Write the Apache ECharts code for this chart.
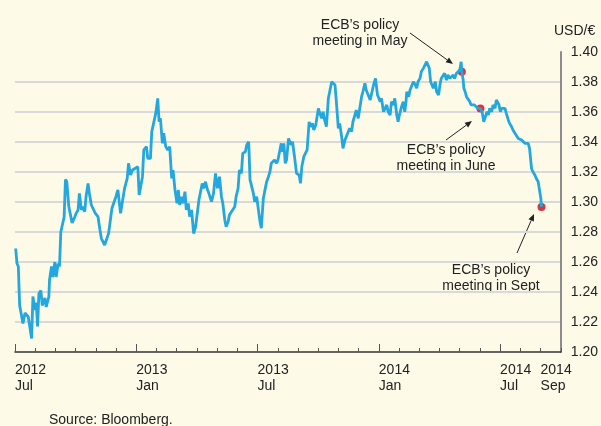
<!DOCTYPE html>
<html>
<head>
<meta charset="utf-8">
<script src="https://cdn.jsdelivr.net/npm/echarts@6/dist/echarts.min.js"></script>
<style>
  html, body { margin: 0; padding: 0; background: #fdfae8; }
  #chart { width: 601px; height: 426px; }
</style>
</head>
<body>
<div id="chart"></div>
<script>
// USD per euro (one line per month)
const dates = [
  '2012-07-02','2012-07-04','2012-07-06','2012-07-08','2012-07-11','2012-07-13','2012-07-16','2012-07-19','2012-07-21','2012-07-26','2012-07-28','2012-07-31',
  '2012-08-02','2012-08-04','2012-08-06','2012-08-09','2012-08-11','2012-08-15','2012-08-17','2012-08-21','2012-08-22','2012-08-25','2012-08-27','2012-08-30',
  '2012-09-01','2012-09-04','2012-09-06','2012-09-08','2012-09-10','2012-09-13','2012-09-15','2012-09-17','2012-09-20','2012-09-23','2012-09-25','2012-09-29',
  '2012-10-01','2012-10-04','2012-10-06','2012-10-09','2012-10-11','2012-10-14','2012-10-16','2012-10-19','2012-10-21','2012-10-24','2012-10-26','2012-10-30',
  '2012-11-03','2012-11-06','2012-11-08','2012-11-13','2012-11-16','2012-11-19','2012-11-21','2012-11-24','2012-11-27','2012-11-30',
  '2012-12-03','2012-12-07','2012-12-10','2012-12-13','2012-12-17','2012-12-19','2012-12-22','2012-12-25','2012-12-28',
  '2013-01-02','2013-01-04','2013-01-07','2013-01-09','2013-01-11','2013-01-15','2013-01-17','2013-01-21','2013-01-23','2013-01-26','2013-01-29',
  '2013-02-01','2013-02-03','2013-02-05','2013-02-08','2013-02-10','2013-02-13','2013-02-16','2013-02-19','2013-02-22','2013-02-24','2013-02-27',
  '2013-03-02','2013-03-04','2013-03-06','2013-03-09','2013-03-11','2013-03-14','2013-03-16','2013-03-19','2013-03-21','2013-03-24','2013-03-27','2013-03-30',
  '2013-04-02','2013-04-04','2013-04-06','2013-04-09','2013-04-11','2013-04-14','2013-04-17','2013-04-19','2013-04-23','2013-04-26','2013-04-29',
  '2013-05-02','2013-05-05','2013-05-08','2013-05-10','2013-05-13','2013-05-15','2013-05-18','2013-05-20','2013-05-23','2013-05-25','2013-05-28','2013-05-30',
  '2013-06-02','2013-06-04','2013-06-07','2013-06-09','2013-06-13','2013-06-15','2013-06-18','2013-06-20','2013-06-22','2013-06-25','2013-06-27','2013-06-30',
  '2013-07-02','2013-07-05','2013-07-07','2013-07-10','2013-07-12','2013-07-15','2013-07-17','2013-07-20','2013-07-22','2013-07-25','2013-07-27','2013-07-30',
  '2013-08-01','2013-08-04','2013-08-06','2013-08-08','2013-08-10','2013-08-12','2013-08-14','2013-08-17','2013-08-21','2013-08-23','2013-08-26','2013-08-29',
  '2013-09-02','2013-09-04','2013-09-06','2013-09-09','2013-09-12','2013-09-14','2013-09-17','2013-09-19','2013-09-22','2013-09-24','2013-09-27',
  '2013-10-01','2013-10-03','2013-10-06','2013-10-08','2013-10-11','2013-10-13','2013-10-16','2013-10-18','2013-10-21','2013-10-23','2013-10-26','2013-10-28','2013-10-31',
  '2013-11-02','2013-11-05','2013-11-07','2013-11-10','2013-11-12','2013-11-15','2013-11-17','2013-11-20','2013-11-22','2013-11-25','2013-11-27','2013-11-30',
  '2013-12-02','2013-12-05','2013-12-07','2013-12-10','2013-12-12','2013-12-15','2013-12-18','2013-12-20','2013-12-23','2013-12-26','2013-12-27','2013-12-29','2013-12-31',
  '2014-01-02','2014-01-04','2014-01-07','2014-01-09','2014-01-12','2014-01-14','2014-01-17','2014-01-19','2014-01-22','2014-01-24','2014-01-27','2014-01-29','2014-01-31',
  '2014-02-02','2014-02-04','2014-02-06','2014-02-08','2014-02-10','2014-02-11','2014-02-14','2014-02-16','2014-02-19','2014-02-21','2014-02-24','2014-02-26','2014-02-28',
  '2014-03-03','2014-03-05','2014-03-08','2014-03-10','2014-03-13','2014-03-15','2014-03-17','2014-03-19','2014-03-21','2014-03-23','2014-03-26','2014-03-28','2014-03-31',
  '2014-04-02','2014-04-04','2014-04-07','2014-04-09','2014-04-12','2014-04-14','2014-04-17','2014-04-19','2014-04-22','2014-04-24','2014-04-27','2014-04-29',
  '2014-05-02','2014-05-04','2014-05-05','2014-05-07','2014-05-08','2014-05-10','2014-05-12','2014-05-14','2014-05-17','2014-05-19','2014-05-22','2014-05-24','2014-05-27','2014-05-29',
  '2014-06-02','2014-06-05','2014-06-07','2014-06-10','2014-06-12','2014-06-14','2014-06-16','2014-06-19','2014-06-21','2014-06-24','2014-06-26','2014-06-29','2014-06-30',
  '2014-07-02','2014-07-04','2014-07-06','2014-07-09','2014-07-11','2014-07-14','2014-07-16','2014-07-19','2014-07-21','2014-07-24','2014-07-26','2014-07-29','2014-07-31',
  '2014-08-03','2014-08-05','2014-08-08','2014-08-10','2014-08-13','2014-08-15','2014-08-18','2014-08-20','2014-08-23','2014-08-25','2014-08-28','2014-08-31',
  '2014-09-01','2014-09-02'
];
const usdPerEuro = [
  1.269,1.259,1.257,1.231,1.230,1.219,1.226,1.226,1.2235,1.209,1.237,1.228,
  1.233,1.217,1.239,1.241,1.231,1.236,1.230,1.237,1.248,1.257,1.250,1.260,
  1.250,1.259,1.257,1.280,1.280,1.290,1.315,1.3135,1.297,1.296,1.286,1.290,
  1.2924,1.2947,1.3058,1.2947,1.2969,1.2935,1.3035,1.3124,1.3058,1.298,1.2991,1.2924,
  1.2902,1.2813,1.2758,1.2713,1.2713,1.2791,1.28,1.2958,1.2969,1.3035,
  1.308,1.2924,1.2924,1.3091,1.3157,1.3258,1.318,1.3213,1.3202,
  1.3235,1.3047,1.3047,1.3169,1.3347,1.3369,1.3291,1.3291,1.3469,1.3469,1.3591,
  1.3691,1.3535,1.3558,1.3391,1.3458,1.3369,1.3347,1.3369,1.3158,1.3213,1.308,
  1.2991,1.308,1.298,1.3035,1.2991,1.3069,1.2947,1.2991,1.2902,1.2947,1.279,1.2835,
  1.2847,1.3013,1.3024,1.3124,1.3091,1.3135,1.308,1.3058,1.3002,1.3058,1.3191,
  1.3091,1.3169,1.3035,1.2991,1.288,1.2835,1.2869,1.2913,1.2935,1.2924,1.2969,1.3035,
  1.3091,1.3213,1.3191,1.3324,1.3335,1.338,1.3402,1.3147,1.3113,1.3058,1.3002,1.3035,
  1.3024,1.2869,1.2825,1.3024,1.3069,1.3135,1.3158,1.3202,1.3258,1.3258,1.328,1.3258,
  1.328,1.3347,1.3391,1.3335,1.3391,1.3258,1.328,1.3424,1.338,1.3402,1.3302,1.3191,
  1.318,1.3124,1.3235,1.3302,1.3302,1.3347,1.3535,1.3502,1.3524,1.348,1.3513,
  1.3624,1.3591,1.3558,1.3602,1.3535,1.3502,1.3691,1.3702,1.3802,1.3802,1.378,1.3669,1.3491,
  1.3524,1.3435,1.3358,1.3413,1.3402,1.3469,1.3491,1.3469,1.3535,1.358,1.3613,1.3558,
  1.3569,1.3702,1.3735,1.3791,1.3747,1.3758,1.368,1.372,1.378,1.3824,1.3813,1.3713,1.3691,
  1.3669,1.3691,1.3602,1.3591,1.3647,1.3602,1.358,1.3669,1.3647,1.3691,1.358,1.3535,1.358,
  1.3569,1.3647,1.3669,1.3602,1.3669,1.3735,1.3702,1.3747,1.3735,1.3802,1.378,1.3758,1.3802,
  1.3824,1.3869,1.3891,1.3902,1.3935,1.3924,1.3891,1.3802,1.378,1.3758,1.3802,1.3735,1.3713,
  1.378,1.3824,1.3835,1.3858,1.3813,1.3847,1.3824,1.3835,1.3847,1.3824,1.3858,1.3858,
  1.388,1.3935,1.3869,1.3813,1.3758,1.3735,1.3702,1.3691,1.3669,1.3647,1.3636,1.3647,1.3636,1.3624,
  1.3624,1.3591,1.3535,1.3547,1.3602,1.358,1.3624,1.3602,1.3647,1.3624,1.368,1.3691,1.3647,
  1.3602,1.3624,1.3613,1.3624,1.3591,1.3547,1.3524,1.3502,1.348,1.3458,1.3447,1.3424,1.3435,
  1.3413,1.3402,1.3391,1.338,1.3391,1.3358,1.3224,1.3202,1.318,1.3158,1.3135,1.3124,
  1.3024,1.2967
];

// ECB meetings marked with red dots
const meetingDates = ['2014-05-05', '2014-06-02', '2014-09-02'];
const meetingRates = [1.3869, 1.3624, 1.2967];

// monthly ticks on the x axis
const months = [
  '2012-07','2012-08','2012-09','2012-10','2012-11','2012-12',
  '2013-01','2013-02','2013-03','2013-04','2013-05','2013-06',
  '2013-07','2013-08','2013-09','2013-10','2013-11','2013-12',
  '2014-01','2014-02','2014-03','2014-04','2014-05','2014-06',
  '2014-07','2014-08','2014-09','2014-10'
];
const monthLabels = {
  '2012-07': '2012\nJul', '2013-01': '2013\nJan', '2013-07': '2013\nJul',
  '2014-01': '2014\nJan', '2014-07': '2014\nJul', '2014-09': '2014\nSep'
};
const majorMonths = ['2012-07', '2013-01', '2013-07', '2014-01', '2014-07'];

const FONT = '"Liberation Sans", Arial, sans-serif';
const INK = '#222';

// a thin line with a filled arrow head at (x2, y2)
function arrow(x1, y1, x2, y2) {
  const a = Math.atan2(y2 - y1, x2 - x1), L = 7, W = 3;
  const bx = x2 - L * Math.cos(a), by = y2 - L * Math.sin(a);
  return [
    { type: 'line', shape: { x1: x1, y1: y1, x2: bx, y2: by }, style: { stroke: INK, lineWidth: 1 } },
    { type: 'polygon', shape: { points: [[x2, y2], [bx + W * Math.sin(a), by - W * Math.cos(a)], [bx - W * Math.sin(a), by + W * Math.cos(a)]] }, style: { fill: INK } }
  ];
}
function note(text, x, y) {
  return { type: 'text', x: x, y: y, style: { text: text, font: '14px ' + FONT, fill: INK, align: 'center', verticalAlign: 'middle', lineHeight: 16 } };
}

var chart = echarts.init(document.getElementById('chart'));
chart.setOption({
  backgroundColor: '#fdfae8',
  animation: false,
  textStyle: { fontFamily: FONT },
  grid: { left: 15, right: 40, top: 52, bottom: 74 },
  xAxis: [
    {
      type: 'time', position: 'bottom', min: '2012-07-01', max: '2014-10-01',
      axisLine: { lineStyle: { color: '#333', width: 1.5 } },
      axisTick: { show: false }, axisLabel: { show: false }, splitLine: { show: false }
    },
    {
      type: 'category', position: 'bottom', data: months, boundaryGap: false,
      axisLine: { show: false },
      axisTick: { inside: true, length: 4, interval: 0, lineStyle: { color: '#555', width: 1 } },
      axisLabel: {
        interval: function (i, v) { return v in monthLabels; },
        formatter: function (v) { return monthLabels[v] || ''; },
        align: 'left', color: INK, fontSize: 14, lineHeight: 16, margin: 10
      }
    },
    {
      type: 'category', position: 'bottom', data: months, boundaryGap: false,
      axisLine: { show: false },
      axisTick: { inside: true, length: 8, interval: function (i, v) { return majorMonths.indexOf(v) >= 0; }, lineStyle: { color: '#555', width: 1 } },
      axisLabel: { show: false }
    }
  ],
  yAxis: {
    type: 'value', position: 'right', min: 1.2, max: 1.4, interval: 0.02,
    axisLine: { show: true, lineStyle: { color: '#8c8c8c', width: 2 } },
    axisTick: { show: false },
    axisLabel: { color: INK, fontSize: 14, margin: 10, formatter: function (v) { return v.toFixed(2); } },
    splitLine: { show: true, showMinLine: false, showMaxLine: false, lineStyle: { color: '#d9d9d9', width: 2 } }
  },
  series: [
    {
      type: 'line', xAxisIndex: 0,
      data: dates.map(function (d, i) { return [d, usdPerEuro[i]]; }),
      showSymbol: false,
      lineStyle: { color: '#22a7df', width: 2.8 }
    },
    {
      type: 'scatter', xAxisIndex: 0,
      data: meetingDates.map(function (d, i) { return [d, meetingRates[i]]; }),
      symbolSize: 8,
      itemStyle: { color: '#e0323a', opacity: 1 }
    }
  ],
  graphic: [
    { type: 'text', x: 554, y: 31, style: { text: 'USD/€', font: '14px ' + FONT, fill: INK, verticalAlign: 'middle' } },
    { type: 'text', x: 49, y: 420, style: { text: 'Source: Bloomberg.', font: '14px ' + FONT, fill: INK, verticalAlign: 'middle' } },
    note('ECB’s policy\nmeeting in May', 360, 33),
    note('ECB’s policy\nmeeting in June', 446, 158),
    note('ECB’s policy\nmeeting in Sept', 491, 278)
  ].concat(arrow(410, 33, 453, 64), arrow(446, 140, 472, 121), arrow(517, 253, 534, 214))
});
</script>
</body>
</html>
